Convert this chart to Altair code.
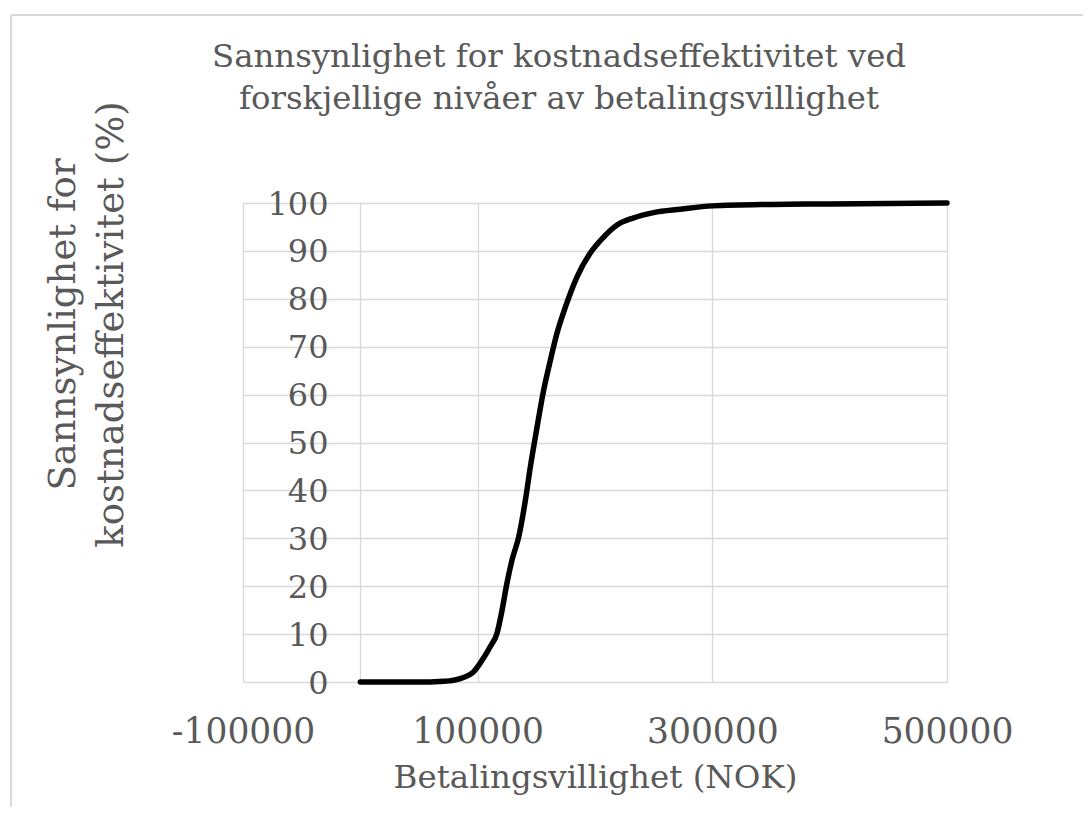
import altair as alt
import pandas as pd

# Data
wtp = [0, 20000, 40000, 60000, 68200, 80000, 95500, 102300, 110800, 116500,
       120800, 125000, 129300, 135000, 140700, 144900, 150600, 156300, 162000,
       167700, 174800, 184700, 196100, 207400, 218800, 233000, 250000, 272800,
       300000, 350000, 400000, 450000, 500000]
prob = [0, 0, 0, 0, 0.1, 0.4, 1.9, 4.0, 7.4, 10.2,
        15.0, 20.7, 25.5, 30.3, 38.0, 44.9, 53.2, 61.0, 67.2,
        72.9, 78.3, 84.6, 89.6, 92.9, 95.4, 96.9, 98.0, 98.7,
        99.4, 99.7, 99.8, 99.9, 100]

x_ticks = [-100000, 100000, 300000, 500000]
y_ticks = [0, 10, 20, 30, 40, 50, 60, 70, 80, 90, 100]

title_lines = ["Sannsynlighet for kostnadseffektivitet ved",
               "forskjellige nivåer av betalingsvillighet"]
y_title = ["Sannsynlighet for", "kostnadseffektivitet (%)"]
x_title = "Betalingsvillighet (NOK)"

df = pd.DataFrame({"wtp": wtp, "prob": prob})

FONT = "DejaVu Serif"
TXT = "#595959"
GRID = "#d9d9d9"

line = alt.Chart(df).mark_line(
    color="black", strokeWidth=5.5, interpolate="monotone", strokeCap="round",
    strokeJoin="round"
).encode(
    x=alt.X("wtp:Q",
            scale=alt.Scale(domain=[-100000, 500000], nice=False, zero=False),
            axis=alt.Axis(values=x_ticks, title=x_title,
                          labelExpr="datum.value + ''", labelFlush=False,
                          grid=True, gridColor=GRID, gridWidth=1.3,
                          domain=False, ticks=False,
                          labelFont=FONT, labelFontSize=34.5, labelColor=TXT,
                          labelPadding=33, labelBaseline="top",
                          titleFont=FONT, titleFontSize=32.5, titleColor=TXT,
                          titleFontWeight="normal", titlePadding=13)),
    y=alt.Y("prob:Q",
            scale=alt.Scale(domain=[0, 100], nice=False),
            axis=alt.Axis(values=y_ticks, title=y_title, labelFlush=False,
                          grid=True, gridColor=GRID, gridWidth=1.3,
                          domain=True, domainColor=GRID, domainWidth=1.3,
                          ticks=False, offset=-117,
                          labelFont=FONT, labelFontSize=32, labelColor=TXT,
                          labelPadding=32, labelBaseline="middle", labelOffset=1,
                          titleFont=FONT, titleFontSize=37, titleColor=TXT,
                          titleFontWeight="normal", titleLineHeight=48,
                          titleAngle=270, titleBaseline="top",
                          titleX=-315, titleY=121, titleAlign="center")),
)

frame = pd.DataFrame({"k": [0]})
left_border = alt.Chart(frame).mark_rule(color=GRID, strokeWidth=2).encode(
    x=alt.value(-232), y=alt.value(-188), y2=alt.value(700))
top_border = alt.Chart(frame).mark_rule(color=GRID, strokeWidth=2).encode(
    x=alt.value(-232), x2=alt.value(900), y=alt.value(-188))

chart = alt.layer(left_border, top_border, line).properties(
    width=704, height=479,
    autosize=alt.AutoSizeParams(type="none"),
    padding={"left": 235, "top": 195, "right": 136, "bottom": 125},
    title=alt.TitleParams(text=title_lines, font=FONT, fontSize=32.4,
                          fontWeight="normal", color=TXT, lineHeight=42,
                          anchor="middle", baseline="alphabetic",
                          dx=-36, dy=127, offset=0),
).configure_view(stroke=None).configure(background="white")

chart.save("out.html", embed_options={"renderer": "svg", "actions": False})
